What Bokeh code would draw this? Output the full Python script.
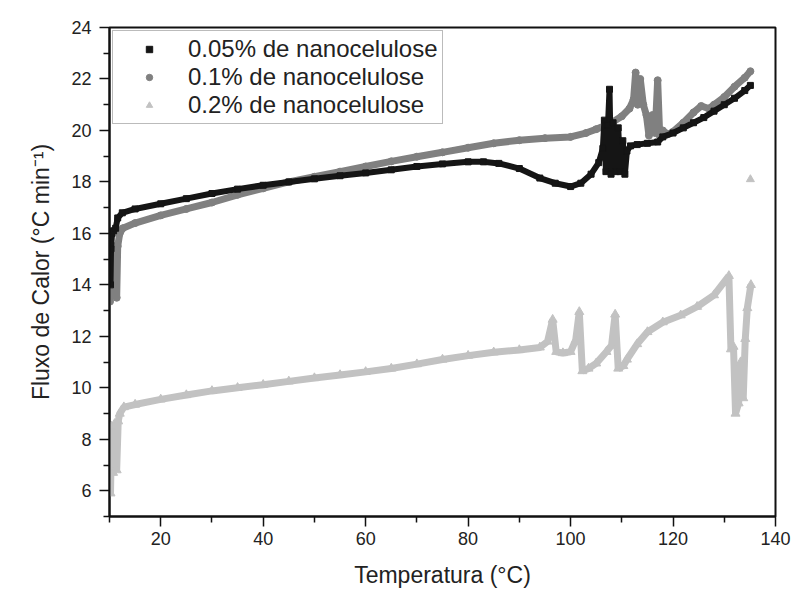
from bokeh.plotting import figure
from bokeh.models import FixedTicker, Legend, LegendItem
from bokeh.embed import file_html
from bokeh.resources import INLINE

# ---- data ----
temp_005 = [10.2, 10.3, 10.5, 10.8, 11.2, 11.6, 12.5, 15, 20, 25, 30, 35, 40, 45, 50, 55, 60, 65,
            70, 75, 80, 83, 86, 90, 94, 97, 100, 102, 104, 105.5, 106.3, 106.6, 106.9, 107.3,
            107.6, 107.9, 108.3, 108.8, 109.3, 109.7, 110.2, 110.6, 111.0, 111.7, 113, 115, 117,
            118, 120, 122, 124, 126, 128, 130, 132, 134, 135.1]
flux_005 = [14.0, 15.4, 16.0, 16.1, 16.2, 16.6, 16.8, 16.95, 17.15, 17.35, 17.55, 17.72, 17.87,
            18.0, 18.12, 18.24, 18.35, 18.47, 18.6, 18.7, 18.78, 18.78, 18.72, 18.52, 18.15,
            17.95, 17.82, 17.95, 18.3, 18.75, 19.3, 20.4, 18.4, 20.2, 21.6, 18.3, 20.3, 18.4,
            20.1, 18.4, 19.6, 18.3, 19.2, 19.4, 19.45, 19.5, 19.55, 19.75, 19.9, 20.1, 20.3,
            20.5, 20.75, 21.0, 21.25, 21.55, 21.75]

temp_01 = [10.1, 10.3, 10.6, 11.0, 11.4, 11.6, 12.0, 12.6, 15, 20, 25, 30, 35, 40, 45, 50, 55, 60,
           65, 70, 75, 80, 85, 90, 95, 100, 103, 105, 108, 110, 111.5, 112.3, 112.7, 113.1,
           113.6, 114.2, 114.8, 115.3, 116.0, 116.5, 117.0, 117.4, 118, 119, 120, 122, 124,
           125.5, 127, 128, 130, 132, 134, 135.1]
flux_01 = [13.35, 15.3, 13.6, 15.5, 13.5, 15.5, 16.0, 16.2, 16.4, 16.7, 16.95, 17.2, 17.5, 17.75,
           18.0, 18.2, 18.4, 18.6, 18.8, 18.98, 19.15, 19.33, 19.5, 19.62, 19.7, 19.75, 19.9,
           20.05, 20.3, 20.55, 20.85, 21.2, 22.25, 21.0, 22.0, 21.0, 20.6, 19.8, 20.6, 19.9,
           21.95, 19.8, 20.0, 19.85, 19.95, 20.3, 20.7, 20.95, 20.85, 21.0, 21.3, 21.7, 22.05,
           22.3]

temp_02 = [10.2, 10.4, 10.7, 11.0, 11.4, 11.7, 12.0, 12.8, 15, 20, 25, 30, 35, 40, 45, 50, 55, 60,
           65, 70, 75, 80, 85, 90, 94, 95.5, 96.5, 97.2, 98.5, 100, 101, 101.7, 102.3, 103.5,
           105, 107, 108, 108.7, 109.3, 110.3, 111, 113, 115, 118, 121.5, 124.7, 128, 130.9,
           131.3, 131.8, 132.2, 132.8, 133.2, 133.7, 134.1, 134.5, 135.2]
flux_02 = [5.9, 8.5, 6.7, 8.6, 6.8, 8.7, 9.0, 9.25, 9.35, 9.55, 9.72, 9.88, 10.0, 10.12, 10.25,
           10.38, 10.5, 10.62, 10.75, 10.92, 11.1, 11.25, 11.38, 11.47, 11.57, 11.8, 12.65, 11.4,
           11.35, 11.4, 11.85, 12.95, 10.65, 10.75, 10.95, 11.4, 11.65, 12.85, 10.75, 10.85,
           11.1, 11.7, 12.17, 12.55, 12.82, 13.15, 13.6, 14.35, 11.5, 11.6, 9.0, 9.4, 11.0, 9.6,
           11.9, 13.1, 14.0]
temp_02_extra = [135.1]
flux_02_extra = [18.1]

x_major = [20, 40, 60, 80, 100, 120, 140]
x_minor = [10, 30, 50, 70, 90, 110, 130]
y_major = [6, 8, 10, 12, 14, 16, 18, 20, 22, 24]
y_minor = [5, 7, 9, 11, 13, 15, 17, 19, 21, 23]

labels = ["0.05% de nanocelulose", "0.1% de nanocelulose", "0.2% de nanocelulose"]
colors = ["#151515", "#808080", "#c2c2c2"]

FONT = "Liberation Sans"
TXT = "#222222"

p = figure(width=794, height=599, x_range=(10, 140), y_range=(5, 24),
           output_backend="svg", toolbar_location=None,
           min_border_left=109, min_border_right=19, min_border_top=27, min_border_bottom=83,
           background_fill_color="white", border_fill_color="white")

p.xgrid.visible = False
p.ygrid.visible = False
p.outline_line_color = "#111111"
p.outline_line_width = 2

# series
p.line(temp_02, flux_02, line_color=colors[2], line_width=7)
r3 = p.scatter(temp_02, flux_02, marker="triangle", size=9, fill_color=colors[2], line_color=colors[2])
p.scatter(temp_02_extra, flux_02_extra, marker="triangle", size=8, fill_color=colors[2], line_color=colors[2])

p.line(temp_01, flux_01, line_color=colors[1], line_width=7)
r2 = p.scatter(temp_01, flux_01, marker="circle", size=7, fill_color=colors[1], line_color=colors[1])

p.line(temp_005, flux_005, line_color=colors[0], line_width=6)
r1 = p.scatter(temp_005, flux_005, marker="square", size=6, fill_color=colors[0], line_color=colors[0])

# axes
for ax, maj, mnr in ((p.xaxis[0], x_major, x_minor), (p.yaxis[0], y_major, y_minor)):
    ax.ticker = FixedTicker(ticks=maj, minor_ticks=mnr)
    ax.axis_line_width = 2
    ax.axis_line_color = "#111111"
    ax.major_tick_in = 0
    ax.major_tick_out = 10
    ax.minor_tick_in = 0
    ax.minor_tick_out = 6
    ax.major_tick_line_width = 1.5
    ax.minor_tick_line_width = 1.5
    ax.major_tick_line_color = "#111111"
    ax.minor_tick_line_color = "#111111"
    ax.major_label_text_font = FONT
    ax.major_label_text_font_size = "18px"
    ax.major_label_text_color = TXT
    ax.axis_label_text_font = FONT
    ax.axis_label_text_font_size = "23px"
    ax.axis_label_text_font_style = "normal"
    ax.axis_label_text_color = TXT

p.xaxis.axis_label = "Temperatura (°C)"
p.yaxis.axis_label = "Fluxo de Calor (°C min⁻¹)"
p.xaxis.major_label_standoff = 5
p.yaxis.major_label_standoff = 8
p.xaxis.axis_label_standoff = 14
p.yaxis.axis_label_standoff = 14

legend = Legend(items=[LegendItem(label=labels[0], renderers=[r1]),
                       LegendItem(label=labels[1], renderers=[r2]),
                       LegendItem(label=labels[2], renderers=[r3])],
                location="top_left", margin=3, padding=4, spacing=0,
                glyph_width=64, glyph_height=16, label_height=27, label_standoff=7,
                label_text_font=FONT, label_text_font_size="24px", label_text_color=TXT,
                border_line_color="#777777", border_line_width=1,
                background_fill_color="white", background_fill_alpha=1.0)
p.add_layout(legend)

open("out.html", "w").write(file_html(p, INLINE))
